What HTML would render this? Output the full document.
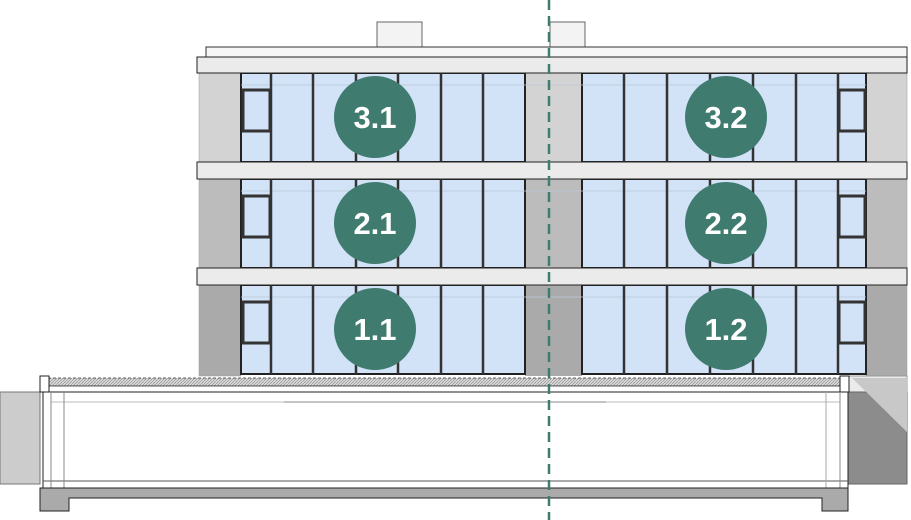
<!DOCTYPE html>
<html><head><meta charset="utf-8"><style>html,body{margin:0;padding:0;background:#fff}svg{display:block}</style></head>
<body>
<svg width="911" height="520" viewBox="0 0 911 520" xmlns="http://www.w3.org/2000/svg" font-family="Liberation Sans, sans-serif">
<defs>
<pattern id="h" width="3" height="3" patternUnits="userSpaceOnUse"><rect width="3" height="3" fill="#d8d8d8"/><path d="M0 3L3 0" stroke="#888" stroke-width="0.6"/></pattern>
</defs>
<rect x="377" y="22" width="45" height="25" fill="#f3f3f3" stroke="#666"/>
<rect x="550" y="22" width="35" height="25" fill="#f3f3f3" stroke="#666"/>
<rect x="206" y="47" width="701" height="10" fill="#f6f6f6" stroke="#333"/>
<rect x="199" y="73" width="42" height="89" fill="#d3d3d3" stroke="#999" stroke-width="0.5"/>
<rect x="866" y="73" width="41" height="89" fill="#d3d3d3" stroke="#999" stroke-width="0.5"/>
<rect x="525" y="73" width="57" height="89" fill="#d3d3d3"/>
<rect x="199" y="179" width="42" height="89" fill="#bcbcbc" stroke="#999" stroke-width="0.5"/>
<rect x="866" y="179" width="41" height="89" fill="#bcbcbc" stroke="#999" stroke-width="0.5"/>
<rect x="525" y="179" width="57" height="89" fill="#bcbcbc"/>
<rect x="199" y="285" width="42" height="91" fill="#aaaaaa" stroke="#999" stroke-width="0.5"/>
<rect x="866" y="285" width="41" height="91" fill="#aaaaaa" stroke="#999" stroke-width="0.5"/>
<rect x="525" y="285" width="57" height="91" fill="#aaaaaa"/>
<g id="fl">
<rect x="241" y="73" width="284" height="89" fill="#d2e3f7" stroke="#222" stroke-width="2"/>
<rect x="582" y="73" width="284" height="89" fill="#d2e3f7" stroke="#222" stroke-width="2"/>
<line x1="241" y1="85" x2="866" y2="85" stroke="#b8c8d8" stroke-width="0.8"/>
<g stroke="#333" stroke-width="2.5">
<line x1="271" y1="73" x2="271" y2="162"/><line x1="313" y1="73" x2="313" y2="162"/><line x1="356" y1="73" x2="356" y2="162"/><line x1="398" y1="73" x2="398" y2="162"/><line x1="441" y1="73" x2="441" y2="162"/><line x1="483" y1="73" x2="483" y2="162"/>
<line x1="624" y1="73" x2="624" y2="162"/><line x1="667" y1="73" x2="667" y2="162"/><line x1="710" y1="73" x2="710" y2="162"/><line x1="753" y1="73" x2="753" y2="162"/><line x1="796" y1="73" x2="796" y2="162"/><line x1="838" y1="73" x2="838" y2="162"/>
</g>
<rect x="243" y="90" width="27" height="41" fill="#d2e3f7" stroke="#333" stroke-width="3"/>
<rect x="839" y="90" width="26" height="41" fill="#d2e3f7" stroke="#333" stroke-width="3"/>
</g>
<use href="#fl" y="106"/>
<use href="#fl" y="212"/>
<rect x="197" y="57" width="710" height="16" fill="#ebebeb" stroke="#222"/>
<rect x="197" y="162" width="710" height="17" fill="#ebebeb" stroke="#222"/>
<rect x="197" y="268" width="710" height="17" fill="#ebebeb" stroke="#222"/>
<g fill="#3f7b6f"><circle cx="375" cy="117" r="41"/><circle cx="726" cy="117" r="41"/><circle cx="375" cy="223" r="41"/><circle cx="726" cy="223" r="41"/><circle cx="375" cy="329" r="41"/><circle cx="726" cy="329" r="41"/></g>
<g fill="#fff" font-size="31" font-weight="bold" text-anchor="middle">
<text x="375" y="128">3.1</text><text x="726" y="128">3.2</text><text x="375" y="234">2.1</text><text x="726" y="234">2.2</text><text x="375" y="340">1.1</text><text x="726" y="340">1.2</text>
</g>
<rect x="0" y="392" width="40" height="92" fill="#cccccc" stroke="#777"/>
<rect x="848" y="376" width="59" height="16" fill="#ebebeb" stroke="#999"/>
<rect x="848" y="392" width="59" height="92" fill="#8c8c8c" stroke="#666"/>
<polygon points="852,378 907,378 907,432" fill="#c8c8c8"/>
<rect x="48" y="378" width="800" height="8" fill="url(#h)" stroke="#333" stroke-dasharray="3,2" stroke-width="0.8"/>
<rect x="48" y="386" width="800" height="6" fill="#fff" stroke="#333" stroke-width="0.8"/>
<rect x="40" y="376" width="9" height="16" fill="#fff" stroke="#222"/>
<rect x="840" y="376" width="9" height="16" fill="#fff" stroke="#222"/>
<rect x="43" y="392" width="805" height="96" fill="#fff" stroke="#222"/>
<line x1="51" y1="402" x2="840" y2="402" stroke="#bbb"/>
<line x1="284" y1="402" x2="606" y2="402" stroke="#888"/>
<line x1="43" y1="481" x2="848" y2="481" stroke="#555"/>
<line x1="51" y1="392" x2="51" y2="488" stroke="#888"/>
<line x1="64" y1="392" x2="64" y2="488" stroke="#888"/>
<line x1="826" y1="392" x2="826" y2="488" stroke="#aaa"/>
<line x1="840" y1="392" x2="840" y2="488" stroke="#888"/>
<path d="M40 488 H848 V511 H822 V498 H69 V511 H40 Z" fill="#aaaaaa" stroke="#222"/>
<line x1="549" y1="0" x2="549" y2="520" stroke="#3f7b6f" stroke-width="2.5" stroke-dasharray="10,6"/>
</svg>
</body></html>
